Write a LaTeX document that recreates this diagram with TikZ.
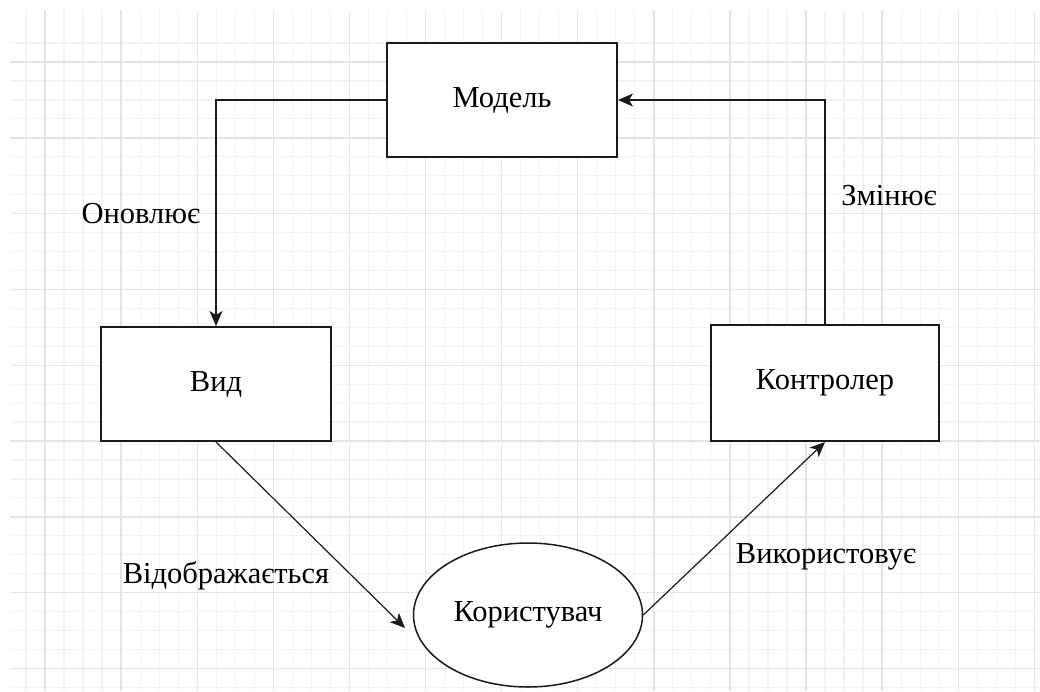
\documentclass[tikz,border=0pt]{standalone}
\usepackage{fontspec}
\setmainfont{Liberation Serif}
\usetikzlibrary{arrows.meta,shapes.geometric}
\definecolor{gridminor}{HTML}{F3F3F3}
\definecolor{gridmajor}{HTML}{E4E4E4}
\definecolor{ink}{HTML}{1A1A1A}
\tikzset{
  minorline/.style={draw=gridminor, line width=1.2pt},
  majorline/.style={draw=gridmajor, line width=1.4pt},
  block/.style={draw=ink, line width=2pt, fill=white, rectangle, inner sep=0pt,
    font=\fontsize{30.5}{32}\selectfont},
  oval/.style={draw=ink, line width=1.5pt, fill=white, ellipse, inner sep=0pt,
    font=\fontsize{30.5}{32}\selectfont},
  caption/.style={font=\fontsize{30.5}{32}\selectfont, inner sep=0pt},
  tip/.style={-{Stealth[length=15pt, width=13pt, inset=4pt]}},
  flow/.style={draw=ink, line width=1.6pt, tip},
  slant/.style={draw=ink, line width=1.2pt, tip},
}
\begin{document}
\begin{tikzpicture}[x=1pt, y=-1pt]
  \useasboundingbox (0,0) rectangle (1040,691);
  \fill[white] (0,0) rectangle (1040,691);
  % background grid
  \begin{scope}
    \clip (10,10) rectangle (1040,691);
    \foreach \i in {-1,...,52}
      \draw[minorline] ({45+19.025*\i},10) -- ({45+19.025*\i},691);
    \foreach \i in {-1,...,33}
      \draw[minorline] (10,{62+18.95*\i}) -- (1040,{62+18.95*\i});
    \foreach \i in {0,...,13}
      \draw[majorline] ({45+76.1*\i},10) -- ({45+76.1*\i},691);
    \foreach \i in {0,...,8}
      \draw[majorline] (10,{62+75.8*\i}) -- (1040,{62+75.8*\i});
  \end{scope}

  % components
  \node[block, minimum width=230pt, minimum height=114pt] (model) at (502,100) {Модель};
  \node[block, minimum width=230pt, minimum height=114pt] (view) at (216,384) {Вид};
  \node[block, minimum width=228pt, minimum height=116pt] (ctrl) at (825,383) {Контролер};
  \node[oval, minimum width=229pt, minimum height=144pt] (user) at (528,615) {Користувач};
  \coordinate (userin) at (405,628);

  % connectors
  \draw[flow] (model.west) -| (view.north);
  \draw[flow] (ctrl.north) |- (model.east);
  \draw[slant] (view.south) -- (userin);
  \draw[slant] (user.east) -- (ctrl.south);

  % labels
  \node[caption] (lupd) at (141,214) {Оновлює};
  \node[caption] (lchg) at (889,196) {Змінює};
  \node[caption] (lshow) at (226,576) {Відображається};
  \node[caption] (luse) at (826,557) {Використовує};
\end{tikzpicture}
\end{document}
